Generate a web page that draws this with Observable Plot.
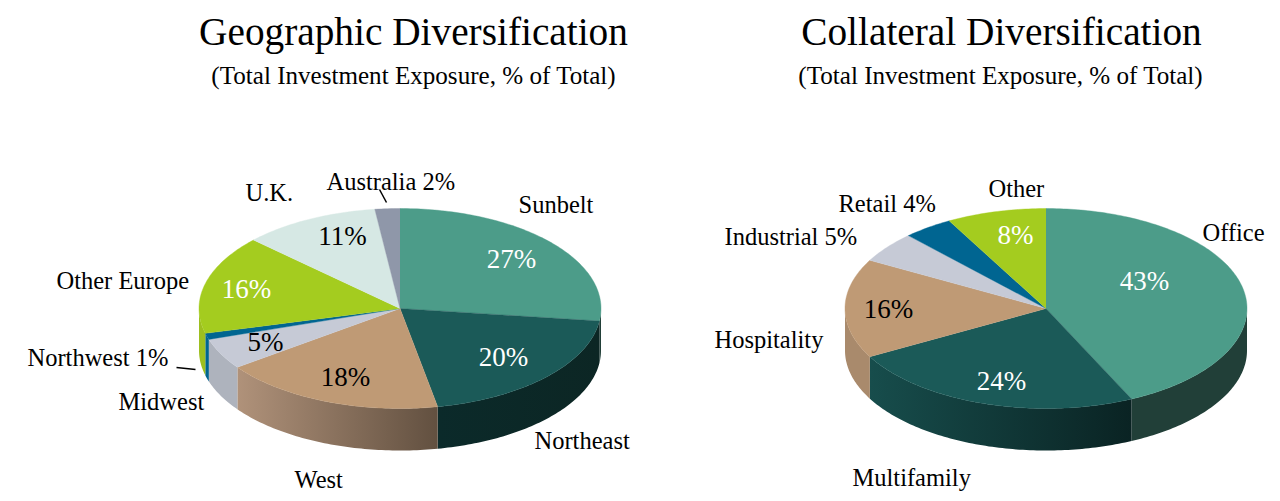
<!DOCTYPE html>
<html>
<head>
<meta charset="utf-8">
<script src="https://cdn.jsdelivr.net/npm/d3@7"></script>
<script src="https://cdn.jsdelivr.net/npm/@observablehq/plot@0.6"></script>
<style>html,body{margin:0;padding:0;background:#fff}svg{display:block}</style>
</head>
<body>
<div id="chart"></div>
<script>
// ---- data ----
const geoNames  = ["Sunbelt", "Northeast", "West", "Midwest", "Northwest", "Other Europe", "U.K.", "Australia"];
const geoValues = [27, 20, 18, 5, 1, 16, 11, 2];
const colNames  = ["Office", "Multifamily", "Hospitality", "Industrial", "Retail", "Other"];
const colValues = [43, 24, 16, 5, 4, 8];
const titles    = ["Geographic Diversification", "Collateral Diversification"];
const subtitle  = "(Total Investment Exposure, % of Total)";

// ---- styles ----
const topColors = {
  Sunbelt:"#4c9c89", Northeast:"#1b5a58", West:"#bf9a75", Midwest:"#c6cad6", Northwest:"#006591",
  "Other Europe":"#a4cc1f", "U.K.":"#d6e8e4", Australia:"#8f97a9",
  Office:"#4c9c89", Multifamily:"#1b5a58", Hospitality:"#bf9a75", Industrial:"#c6cad6", Retail:"#006591", Other:"#a4cc1f"
};
const sideFills = {
  Sunbelt:"#213f38", Northeast:"url(#gNE)", West:"url(#gW)", Midwest:"#aeb3bd", Northwest:"#006591",
  "Other Europe":"#9dbf1f", Office:"#213f38", Multifamily:"url(#gM)", Hospitality:"#a98a6c"
};
const gradients = [
  ["gNE", "#0b2a2a", "#0c2624"],
  ["gW",  "#b0927a", "#625040"],
  ["gM",  "#174d4c", "#0a2323"]
];

// ---- layout ----
const W = 1280, H = 501, RX = 201, RY = 100, DEPTH = 42, CY = 308;
const CX = {geo: 399.5, col: 1045.5};
const serif = "Liberation Serif, Times New Roman, serif";

const pt = (cx, th, dy = 0) => ({x: cx + RX * Math.sin(th), y: CY + dy - RY * Math.cos(th)});
const DEG = Math.PI / 180;

function slices(names, values, cx) {
  const total = d3.sum(values);
  let acc = 0;
  return names.map((name, i) => {
    const a0 = acc / total * 2 * Math.PI;
    acc += values[i];
    const a1 = acc / total * 2 * Math.PI;
    return {name, value: values[i], a0, a1, cx};
  });
}
function arcPts(cx, a0, a1, dy) {
  const n = Math.max(2, Math.ceil((a1 - a0) / DEG));
  return d3.range(n + 1).map(k => pt(cx, a0 + (a1 - a0) * k / n, dy));
}
function topPoly(s) {
  return [{x: s.cx, y: CY}, ...arcPts(s.cx, s.a0, s.a1, 0)];
}
function sidePoly(s) {
  const a0 = Math.max(s.a0, Math.PI / 2), a1 = Math.min(s.a1, 1.5 * Math.PI);
  if (a1 <= a0) return null;
  return [...arcPts(s.cx, a0, a1, 0), ...arcPts(s.cx, a0, a1, DEPTH).reverse()];
}

const all = [...slices(geoNames, geoValues, CX.geo), ...slices(colNames, colValues, CX.col)];
const sideMarks = all.map(s => {
  const p = sidePoly(s);
  return p && Plot.line(p, {x: "x", y: "y", fill: sideFills[s.name] || "#888", stroke: "none", curve: "linear"});
}).filter(Boolean);
const topMarks = all.map(s =>
  Plot.line(topPoly(s), {x: "x", y: "y", fill: topColors[s.name], stroke: topColors[s.name], strokeWidth: 0.4, curve: "linear"}));

// placement of the text annotations
const headings = [
  {t: titles[0], x: 413, y: 32, s: 39.3}, {t: titles[1], x: 1001, y: 32, s: 39.3},
  {t: subtitle, x: 413, y: 75, s: 25.1}, {t: subtitle, x: 1000, y: 75, s: 25.1}
];
const outer = [
  {t: "Sunbelt", x: 518, y: 205}, {t: "Australia 2%", x: 326, y: 182}, {t: "U.K.", x: 245, y: 193},
  {t: "Other Europe", x: 56, y: 281}, {t: "Northwest 1%", x: 27, y: 358}, {t: "Midwest", x: 118, y: 402},
  {t: "West", x: 294, y: 480}, {t: "Northeast", x: 534, y: 441},
  {t: "Other", x: 988, y: 189}, {t: "Office", x: 1202, y: 233}, {t: "Retail 4%", x: 838, y: 204},
  {t: "Industrial 5%", x: 724, y: 237}, {t: "Hospitality", x: 714, y: 340}, {t: "Multifamily", x: 852, y: 478}
];
const pctPlace = {
  Sunbelt:[511,259,"#fff"], Northeast:[503,357,"#fff"], West:[345,377,"#000"], Midwest:[265,342,"#000"],
  "Other Europe":[246,289,"#fff"], "U.K.":[342,236,"#000"],
  Office:[1144,281,"#fff"], Multifamily:[1001,381,"#fff"], Hospitality:[888,309,"#000"], Other:[1015,235,"#fff"]
};
const inner = all.filter(s => pctPlace[s.name]).map(s => ({
  t: s.value + "%", x: pctPlace[s.name][0], y: pctPlace[s.name][1], c: pctPlace[s.name][2]
}));
const leaders = [
  {x1: 176, y1: 367, x2: 195, y2: 369},
  {x1: 379, y1: 189, x2: 386, y2: 202}
];

const defsMark = () => {
  const defs = d3.create("svg:defs");
  for (const [id, a, b] of gradients) {
    const g = defs.append("linearGradient").attr("id", id);
    g.append("stop").attr("offset", "0").attr("stop-color", a);
    g.append("stop").attr("offset", "1").attr("stop-color", b);
  }
  return defs.node();
};

const chart = Plot.plot({
  width: W, height: H,
  margin: 0,
  x: {domain: [0, W], range: [0, W], axis: null},
  y: {domain: [0, H], range: [0, H], axis: null},
  style: {background: "#fff"},
  marks: [
    defsMark,
    ...sideMarks,
    ...topMarks,
    Plot.link(leaders, {x1: "x1", y1: "y1", x2: "x2", y2: "y2", stroke: "#000", strokeWidth: 1.5}),
    Plot.text(headings, {x: "x", y: "y", text: "t", fontSize: "s", fontFamily: serif, fill: "#000", textAnchor: "middle"}),
    Plot.text(outer, {x: "x", y: "y", text: "t", fontSize: 24.5, fontFamily: serif, fill: "#000", textAnchor: "start"}),
    Plot.text(inner, {x: "x", y: "y", text: "t", fontSize: 27, fontFamily: serif, fill: "c", textAnchor: "middle"})
  ]
});
document.getElementById("chart").appendChild(chart);
</script>
</body>
</html>
